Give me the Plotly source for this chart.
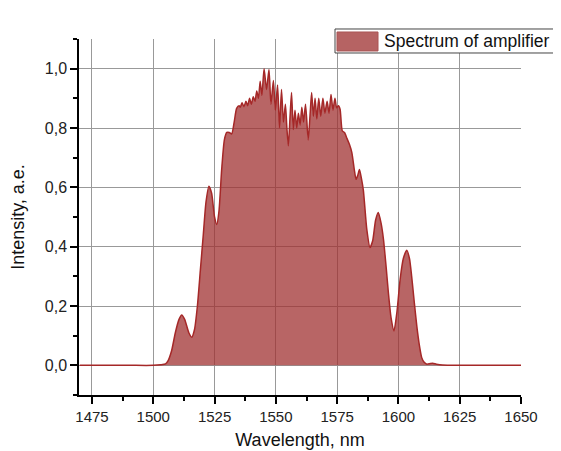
import plotly.graph_objects as go

wavelength = [1470, 1490, 1500, 1503, 1505, 1506, 1507.5, 1509, 1510.5, 1511.6, 1512.8, 1514.5,
              1515.7, 1516.8, 1518, 1519.2, 1520.4, 1521.5, 1522.7, 1523.8, 1525, 1525.9, 1526.8,
              1527.9, 1529, 1530, 1531, 1532, 1533, 1534, 1535, 1535.5, 1536.2, 1537, 1537.8,
              1538.5, 1539.3, 1540, 1540.8, 1541.5, 1542.2, 1542.9, 1543.6, 1544.3, 1545.2,
              1546.2, 1547.2, 1548.0, 1549.0, 1549.8, 1550.7, 1551.5, 1552.3, 1553.1, 1553.9,
              1554.5, 1555.1, 1555.8, 1556.4, 1557.1, 1557.8, 1558.5, 1559.2, 1559.9, 1560.6,
              1561.3, 1562.1, 1563.2, 1564.0, 1564.6, 1565.3, 1566, 1566.7, 1567.5, 1568.3,
              1569.2, 1570, 1570.9, 1571.7, 1572.5, 1573.3, 1574.1, 1574.8, 1575.5, 1576.2,
              1577.1, 1578, 1579, 1580, 1581, 1582, 1582.7, 1583.4, 1584.1, 1584.9, 1585.7,
              1587.1, 1588.4, 1589.5, 1590.7, 1591.8, 1592.9, 1593.9, 1595, 1595.9, 1597,
              1598.2, 1599.4, 1600.7, 1602, 1603.4, 1604.5, 1605.4, 1606.5, 1607.5, 1608.5,
              1609.5, 1610.5, 1611.6, 1613, 1614, 1615.5, 1618, 1625, 1650]
intensity = [0.0, 0.0, 0.0, 0.002, 0.005, 0.015, 0.05, 0.11, 0.155, 0.17, 0.155, 0.11,
             0.095, 0.12, 0.2, 0.32, 0.44, 0.55, 0.604, 0.58, 0.5, 0.475, 0.52,
             0.66, 0.76, 0.785, 0.785, 0.78, 0.82, 0.866, 0.875, 0.87, 0.885, 0.872, 0.89,
             0.875, 0.9, 0.88, 0.905, 0.89, 0.925, 0.9, 0.958, 0.91, 1.0,
             0.93, 0.997, 0.88, 0.96, 0.86, 0.945, 0.80, 0.93, 0.82, 0.88,
             0.80, 0.74, 0.84, 0.92, 0.795, 0.86, 0.8, 0.85, 0.81, 0.87,
             0.82, 0.88, 0.76, 0.85, 0.92, 0.84, 0.90, 0.83, 0.90, 0.84,
             0.9, 0.85, 0.89, 0.85, 0.913, 0.86, 0.9, 0.868, 0.875, 0.863,
             0.79, 0.785, 0.765, 0.745, 0.717, 0.66, 0.627, 0.64, 0.66, 0.63, 0.59,
             0.458, 0.397, 0.42, 0.49, 0.515, 0.48, 0.425, 0.33, 0.245, 0.16,
             0.116, 0.18, 0.29, 0.36, 0.388, 0.36, 0.30, 0.21, 0.132, 0.07,
             0.026, 0.01, 0.004, 0.006, 0.007, 0.004, 0.001, 0.0, 0.0]

x_ticks = [1475, 1500, 1525, 1550, 1575, 1600, 1625, 1650]
x_labels = ["1475", "1500", "1525", "1550", "1575", "1600", "1625", "1650"]
y_ticks = [0.0, 0.2, 0.4, 0.6, 0.8, 1.0]
y_labels = ["0,0", "0,2", "0,4", "0,6", "0,8", "1,0"]
series_name = "Spectrum of amplifier"

fill_col = "rgba(160,50,50,0.75)"
line_col = "rgb(165,40,40)"

fig = go.Figure()
fig.add_trace(go.Scatter(
    x=wavelength, y=intensity, mode="lines", name=series_name, showlegend=False,
    line=dict(color=line_col, width=1.5, shape="spline", smoothing=0.6),
    fill="tozeroy", fillcolor=fill_col,
))

# legend box drawn like the original (runs off the right edge)
fig.add_shape(type="rect", xref="paper", yref="paper", x0=0.5792, x1=1.12,
              y0=0.9607, y1=1.0281, fillcolor="white", line=dict(color="#444", width=1),
              layer="above")
fig.add_shape(type="rect", xref="paper", yref="paper", x0=0.5837, x1=0.6765,
              y0=0.9663, y1=1.0197, fillcolor="rgb(182,99,99)",
              line=dict(color="rgb(170,85,85)", width=1), layer="above")
fig.add_annotation(text=series_name, xref="paper", yref="paper", x=0.685, y=0.9944,
                   xanchor="left", yanchor="middle", showarrow=False,
                   font=dict(size=17.5, color="#111"))

font = "Liberation Sans, Arial, sans-serif"
fig.update_layout(
    width=553, height=443,
    margin=dict(l=71, r=40, t=31, b=56, autoexpand=False),
    paper_bgcolor="white", plot_bgcolor="white",
    font=dict(family=font, size=15, color="#222"),
    showlegend=False,
    xaxis=dict(
        range=[1469.7, 1650], tickvals=x_ticks, ticktext=x_labels, automargin=False,
        showline=True, linecolor="black", linewidth=1.5,
        ticks="outside", ticklen=7, tickwidth=1.5, tickcolor="black",
        showgrid=True, gridcolor="#999999", gridwidth=1, zeroline=False,
        minor=dict(dtick=12.5, tick0=1475, ticks="outside", ticklen=4,
                   tickwidth=1.5, tickcolor="black", showgrid=False),
        title=dict(text="Wavelength, nm", font=dict(size=18, color="#111"), standoff=10),
        tickfont=dict(size=15, color="#222"),
    ),
    yaxis=dict(
        range=[-0.1, 1.1], tickvals=y_ticks, ticktext=y_labels, automargin=False,
        showline=True, linecolor="black", linewidth=1.5,
        ticks="outside", ticklen=7, tickwidth=1.5, tickcolor="black",
        showgrid=True, gridcolor="#999999", gridwidth=1, zeroline=False,
        minor=dict(dtick=0.1, tick0=0, ticks="outside", ticklen=4,
                   tickwidth=1.5, tickcolor="black", showgrid=False),
        title=dict(text="Intensity, a.e.", font=dict(size=18, color="#111"), standoff=28),
        tickfont=dict(size=16, color="#222"),
    ),
)

fig.write_html("out.html")
